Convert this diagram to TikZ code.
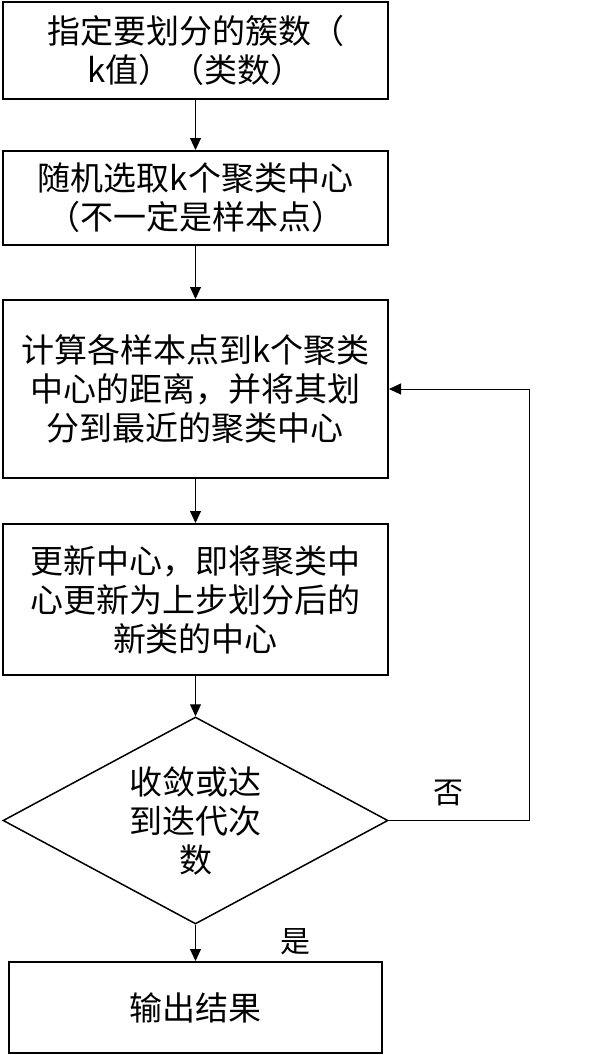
\documentclass[tikz,border=0pt]{standalone}
\usepackage{fontspec}
\setmainfont{Noto Sans CJK SC}
\usetikzlibrary{shapes.geometric,arrows.meta}

\tikzset{
  procbox/.style={draw,line width=2pt,minimum width=385pt,inner sep=0pt,align=center,
    font=\fontsize{33}{39}\selectfont},
  decide/.style={draw,diamond,line width=1.5pt,minimum width=385pt,minimum height=207pt,
    aspect=1.86,inner sep=0pt,align=center,font=\fontsize{33}{39}\selectfont},
  flow/.style={line width=1pt,-{Triangle[length=12pt,width=11pt]}},
  tag/.style={font=\fontsize{30}{36}\selectfont}
}

\begin{document}
\begin{tikzpicture}[x=1pt,y=-1pt]

\useasboundingbox (0,0) rectangle (609,1055);

\node[procbox,minimum height=97pt] (count) at (195.5,50.5) {指定要划分的簇数（\\k值）（类数）};
\node[procbox,minimum height=94pt] (pick) at (195.5,198) {随机选取k个聚类中心\\（不一定是样本点）};
\node[procbox,minimum height=178pt] (assign) at (195.5,389) {计算各样本点到k个聚类\\中心的距离，并将其划\\分到最近的聚类中心};
\node[procbox,minimum height=151pt] (update) at (195.5,599.5) {更新中心，即将聚类中\\心更新为上步划分后的\\新类的中心};
\node[decide] (check) at (195.5,820.5) {收敛或达\\到迭代次\\数};
\node[procbox,minimum width=373pt,minimum height=91pt] (output) at (195.5,1007.5) {输出结果};

\coordinate (back) at (529,820.5);

\draw[flow] (count) -- (pick);
\draw[flow] (pick) -- (assign);
\draw[flow] (assign) -- (update);
\draw[flow] (update) -- (check);
\draw[flow] (check) -- (output);
\draw[flow] (check.east) -- (back) |- (assign.east);

\node[tag] (no) at (448,793) {否};
\node[tag] (yes) at (295,942) {是};

\end{tikzpicture}
\end{document}
